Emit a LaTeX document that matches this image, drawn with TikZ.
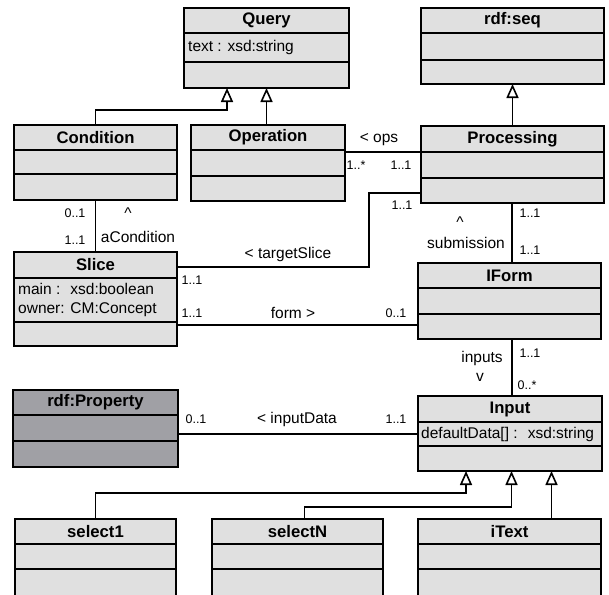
\documentclass[tikz,border=0pt]{standalone}
\usepackage{fontspec}
\setmainfont{Liberation Sans}
\usepackage{xcolor}
\usetikzlibrary{arrows.meta,calc,positioning}
\definecolor{classfill}{RGB}{224,224,224}
\definecolor{propfill}{RGB}{160,160,165}
\tikzset{>=latex}
\tikzset{
  classbox/.style={draw, line width=1.6pt, inner sep=0pt, outer sep=0pt},
  classline/.style={line width=1.6pt},
  classtitle/.style={font=\fontsize{16.7}{19}\selectfont\bfseries, inner sep=0pt},
  attrtext/.style={font=\fontsize{15.5}{19}\selectfont, anchor=west, inner sep=0pt, align=left},
  assoc/.style={line width=1.6pt},
  gen/.style={line width=1.6pt, -{Triangle[fill=white, length=14pt, width=12pt]}},
  rolelabel/.style={font=\fontsize{15.5}{19}\selectfont, inner sep=0pt},
  mult/.style={font=\fontsize{12.5}{15}\selectfont, inner sep=0pt}
}
% class box: [fill] name, left, top, right, bottom, sep1, sep2, title
\newcommand{\umlclass}[9][classfill]{%
  \node[classbox, fill=#1, anchor=north west,
    minimum width={(#5-#3)*1pt}, minimum height={(#6-#4)*1pt}] (#2) at (#3,#4) {};
  \draw[classline] (#3,#7) -- (#5,#7);
  \draw[classline] (#3,#8) -- (#5,#8);
  \node[classtitle] (#2-title) at ({(#3+#5)/2},{(#4+#7)/2}) {#9};
}

\begin{document}
\begin{tikzpicture}[x=1pt,y=-1pt]
  \useasboundingbox (0,0) rectangle (609,594);
  \clip (0,0) rectangle (609,594);

  % Classes
  \umlclass{query}{184}{8}{349}{88}{33}{62}{Query}
  \umlclass{rdfseq}{421}{8}{604}{84}{33}{60}{rdf:seq}
  \umlclass{condition}{14}{125}{177}{200}{150}{174}{Condition}
  \umlclass{operation}{191}{125}{345}{201}{150}{176}{Operation}
  \umlclass{processing}{421}{126}{604}{203}{152}{178}{Processing}
  \umlclass{slice}{14}{252}{177}{346}{278}{322}{Slice}
  \umlclass{iform}{418}{263}{601}{339}{288}{314}{IForm}
  \umlclass[propfill]{rdfprop}{13}{390}{178}{467}{415}{441}{rdf:Property}
  \umlclass{input}{418}{396}{602}{471}{422}{446}{Input}
  \umlclass{select1}{15}{519}{176}{640}{544}{569}{select1}
  \umlclass{selectN}{212}{519}{383}{640}{544}{569}{selectN}
  \umlclass{itext}{418}{519}{601}{640}{544}{569}{iText}

  % Attributes
  \node[attrtext] (query-attr) at (188,47.5) {text : xsd:string};
  \node[attrtext] (slice-attr) at (18,300) {main :~ xsd:boolean\\owner: CM:Concept};
  \node[attrtext] (input-attr) at (421,434) {defaultData[] :~ xsd:string};

  % Generalizations
  \draw[gen] (condition.north) -- ++(0,-15) -| ([xshift=-39.5pt]query.south);
  \draw[gen] (query.south |- operation.north) -- (query.south);
  \draw[gen] (processing.north) -- (rdfseq.south);
  \draw[gen] (select1.north) -- ++(0,-26) -| ([xshift=-44pt]input.south);
  \draw[gen] ([xshift=7pt]selectN.north) -- ++(0,-12) -| ([xshift=1.5pt]input.south);
  \draw[gen] ([xshift=41.5pt]input.south |- itext.north) -- ([xshift=41.5pt]input.south);

  % Associations
  \coordinate (tsbend) at (369,267);
  \coordinate (formy) at (0,325);
  \coordinate (spine) at (512,0);
  \draw[assoc] ([yshift=-27pt]operation.north east) -- ([yshift=-27pt]operation.north east -| processing.west);
  \draw[assoc] ([yshift=-67pt]processing.north west) -| (tsbend) -- (tsbend -| slice.east);
  \draw[assoc] (slice.east |- formy) -- (iform.west |- formy);
  \draw[assoc] (condition.south) -- (slice.north);
  \draw[assoc] (processing.south -| spine) -- (iform.north -| spine);
  \draw[assoc] (iform.south -| spine) -- (input.north -| spine);
  \draw[assoc] (input-attr.west -| rdfprop.east) -- (input-attr.west -| input.west);

  % Labels
  \node[rolelabel] (ops) at (379,140) {< ops};
  \node[mult] (ops-m1) at (356,165) {1..*};
  \node[mult] (ops-m2) at (401,165) {1..1};
  \node[rolelabel] (tslice) at (288,254) {< targetSlice};
  \node[mult] (tslice-m1) at (402,205) {1..1};
  \node[mult] (tslice-m2) at (192,280) {1..1};
  \node[rolelabel] (form) at (293,313) {form >};
  \node[mult] (form-m1) at (192,313) {1..1};
  \node[mult] (form-m2) at (396,313) {0..1};
  \node[mult] (acond-m1) at (75,213) {0..1};
  \node[mult] (acond-m2) at (75,240) {1..1};
  \node[rolelabel] (acond-up) at (128,213) {\textasciicircum};
  \node[rolelabel] (acond) at (138,237) {aCondition};
  \node[rolelabel] (subm-up) at (460,222) {\textasciicircum};
  \node[rolelabel] (subm) at (466,243) {submission};
  \node[mult] (subm-m1) at (530,213) {1..1};
  \node[mult] (subm-m2) at (530,250) {1..1};
  \node[rolelabel] (inputs) at (482,358) {inputs};
  \node[rolelabel] (inputs-down) at (480,377) {v};
  \node[mult] (inputs-m1) at (530,353) {1..1};
  \node[mult] (inputs-m2) at (527,385) {0..*};
  \node[rolelabel] (idata) at (297,419) {< inputData};
  \node[mult] (idata-m1) at (196,419) {0..1};
  \node[mult] (idata-m2) at (396,419) {1..1};
\end{tikzpicture}
\end{document}
